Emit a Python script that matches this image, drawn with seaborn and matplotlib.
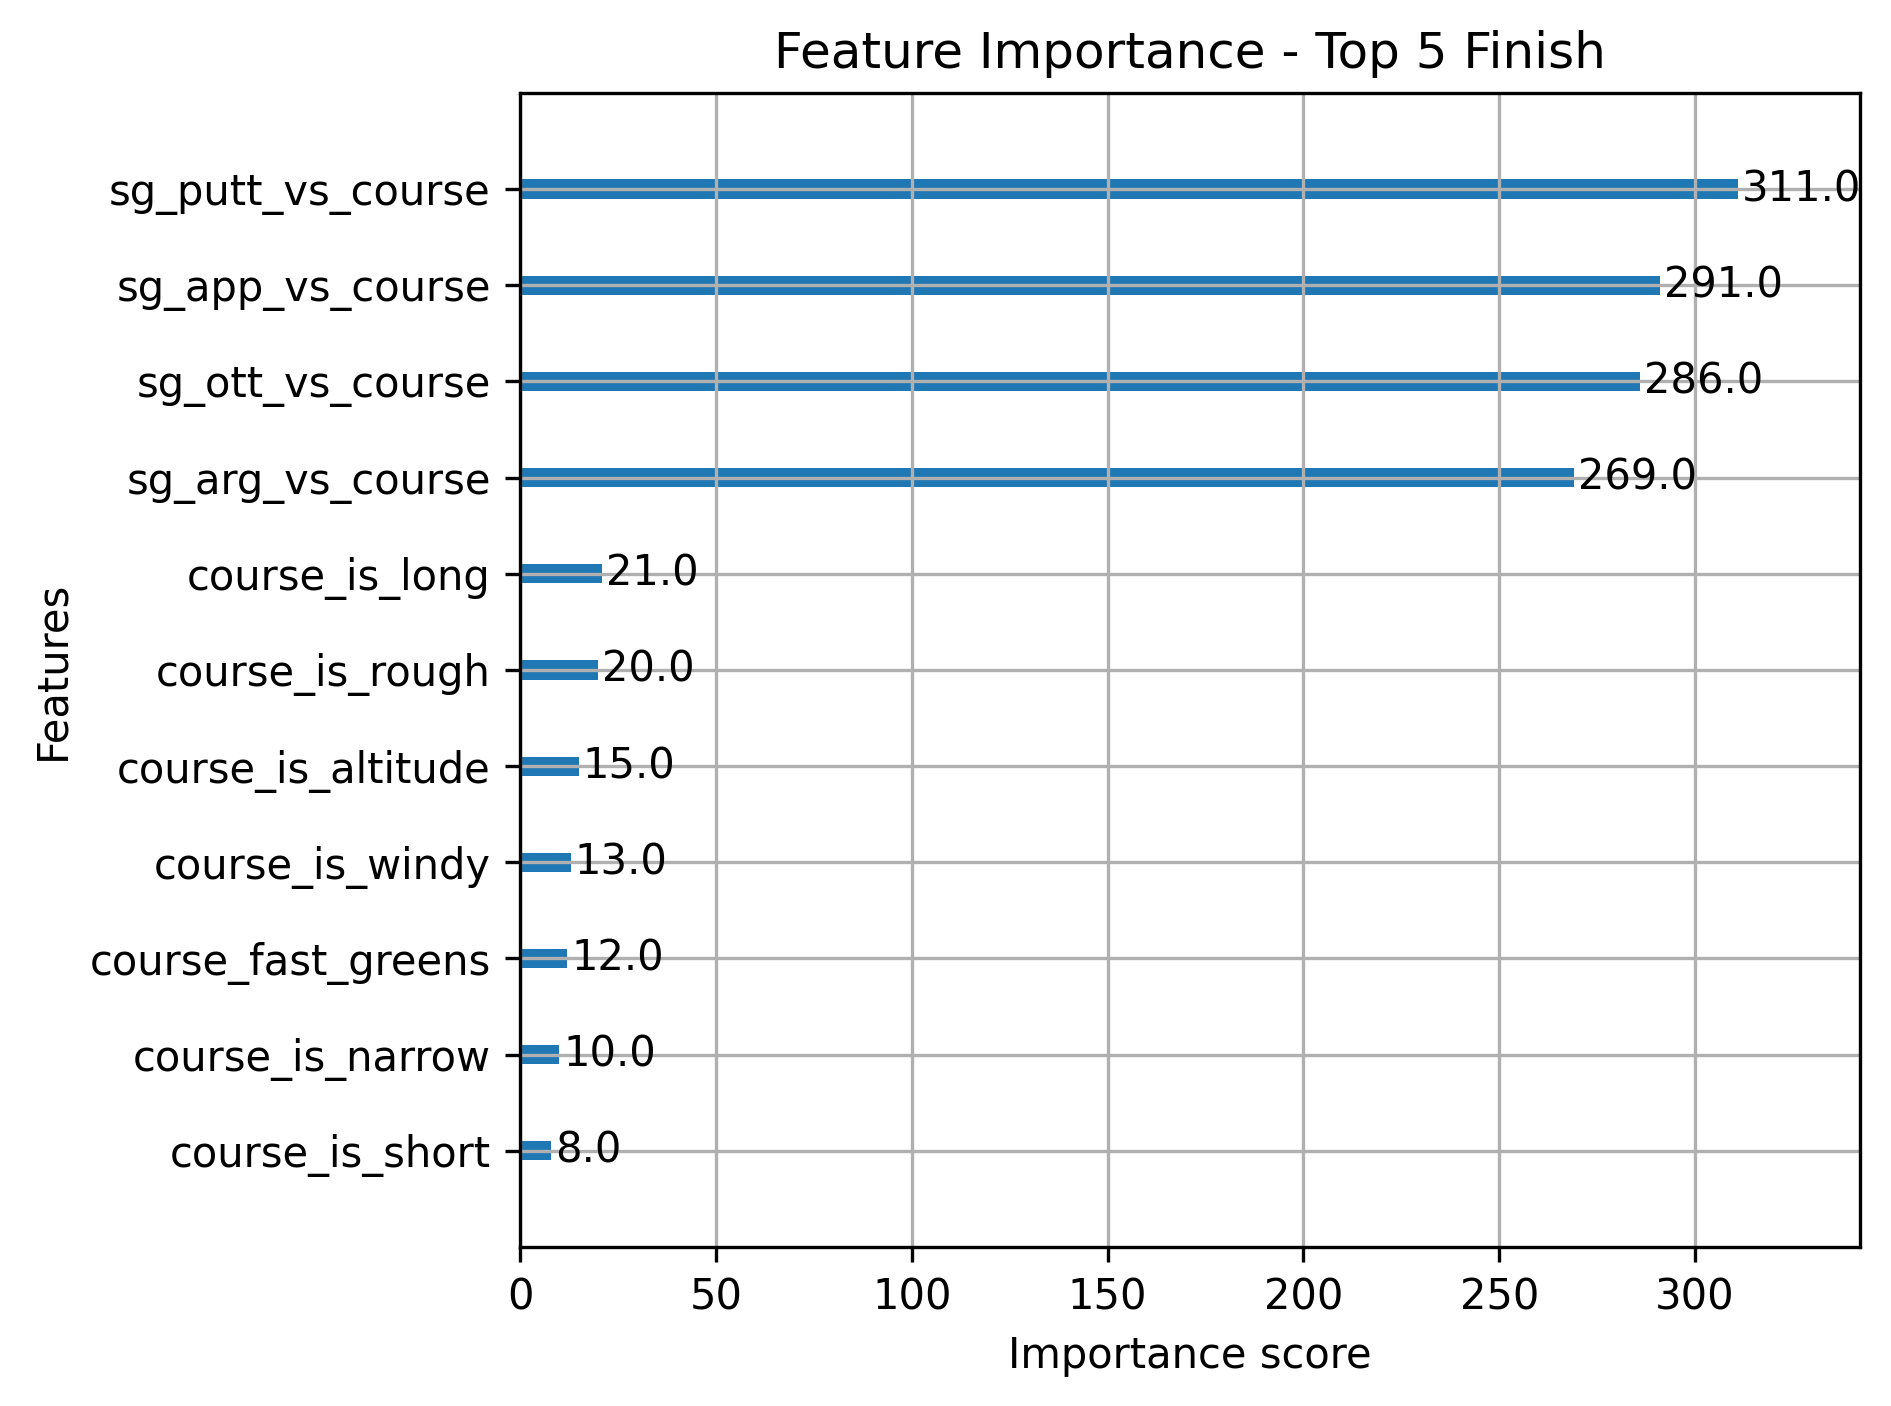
import pandas as pd
import numpy as np
import seaborn as sns
import matplotlib.pyplot as plt

# feature importance values (top of chart first)
features = ["sg_putt_vs_course", "sg_app_vs_course", "sg_ott_vs_course",
            "sg_arg_vs_course", "course_is_long", "course_is_rough",
            "course_is_altitude", "course_is_windy", "course_fast_greens",
            "course_is_narrow", "course_is_short"]
scores = [311.0, 291.0, 286.0, 269.0, 21.0, 20.0, 15.0, 13.0, 12.0, 10.0, 8.0]

df = pd.DataFrame({"feature": features, "score": scores})

fig = plt.figure(figsize=(1891 / 300, 1406 / 300), dpi=300)
ax = fig.add_axes([0.275, 0.1131, 0.9836 - 0.275, 0.9339 - 0.1131])

sns.barplot(data=df, x="score", y="feature", order=features, orient="h",
            width=0.2, color="#1f77b4", saturation=1, ax=ax)

# value labels next to each bar
for i, v in enumerate(df["score"]):
    ax.text(v + 1, i, str(v), va="center")

ax.set_xlim(0, max(scores) * 1.1)
ax.set_ylim(len(features), -1)
ax.grid(True)
ax.set_title("Feature Importance - Top 5 Finish")
ax.set_xlabel("Importance score")
ax.set_ylabel("Features")

fig.savefig("out.png", dpi=300)
